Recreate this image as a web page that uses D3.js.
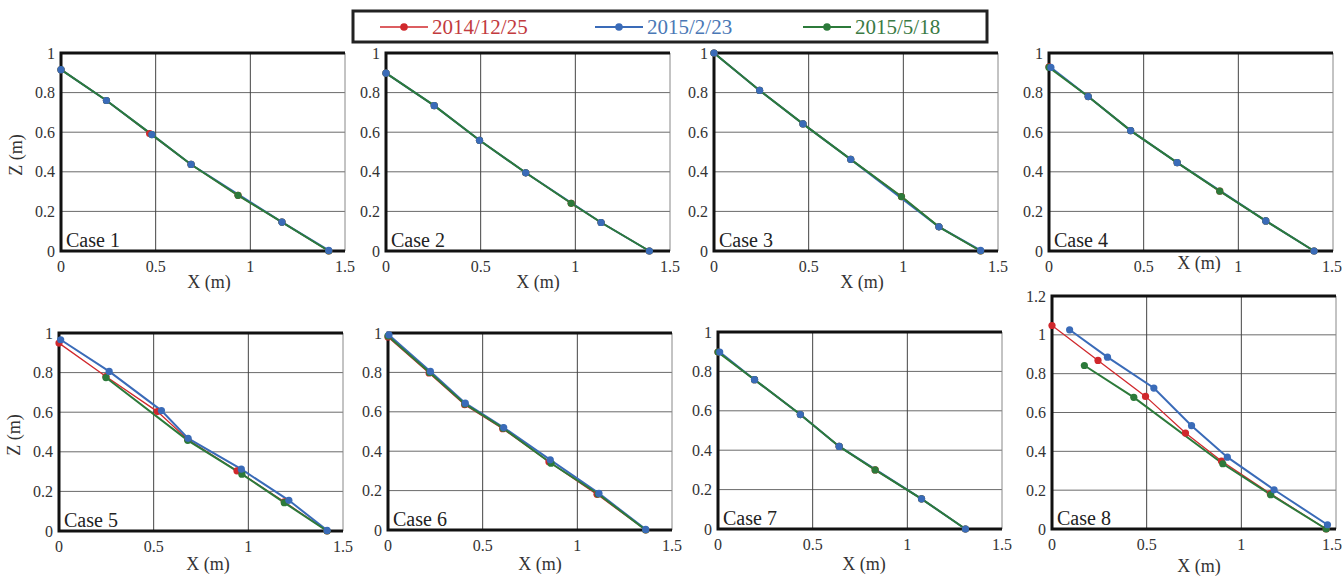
<!DOCTYPE html>
<html>
<head>
<meta charset="utf-8">
<script src="https://cdn.jsdelivr.net/npm/d3@7"></script>
<style>
  body { margin: 0; background: #fff; }
  svg { display: block; }
</style>
</head>
<body>
<div id="chart"></div>
<script>
// series names + colours
const seriesNames = ["2014/12/25", "2015/2/23", "2015/5/18"];
const seriesColors = ["#d0282c", "#3a6bb8", "#2c7a3a"];
const textColors = ["#c23a3e", "#4a78b6", "#3a7a44"];

const xTicks = [0, 0.5, 1, 1.5];
const zTicks = [0, 0.2, 0.4, 0.6, 0.8, 1];
const zTicks8 = [0, 0.2, 0.4, 0.6, 0.8, 1, 1.2];
const caseNames = ["Case 1", "Case 2", "Case 3", "Case 4", "Case 5", "Case 6", "Case 7", "Case 8"];

// [X, Z]
const case1Red = [[0,0.916],[0.24,0.76],[0.468,0.593],[0.687,0.437],[0.935,0.281],[1.167,0.146],[1.414,0]];
const case1Blue = [[0,0.916],[0.24,0.76],[0.48,0.588],[0.687,0.437],[1.167,0.146],[1.414,0.003]];
const case1Green = [[0,0.916],[0.24,0.76],[0.48,0.588],[0.687,0.437],[0.935,0.281],[1.167,0.146],[1.414,0]];

const case2Red = [[0,0.898],[0.255,0.734],[0.494,0.559],[0.738,0.395],[0.978,0.241],[1.136,0.144],[1.391,0]];
const case2Blue = [[0,0.898],[0.255,0.734],[0.494,0.559],[0.738,0.395],[1.136,0.144],[1.391,0]];
const case2Green = [[0,0.898],[0.255,0.734],[0.494,0.559],[0.738,0.395],[0.978,0.241],[1.136,0.144],[1.391,0]];

const case3Red = [[0,1.0],[0.241,0.811],[0.47,0.642],[0.722,0.463],[0.99,0.275],[1.188,0.122],[1.408,0]];
const case3Blue = [[0,1.0],[0.241,0.811],[0.47,0.642],[0.722,0.463],[1.188,0.122],[1.408,0.003]];
const case3Green = [[0,1.0],[0.241,0.811],[0.47,0.642],[0.722,0.463],[0.99,0.275],[1.188,0.122],[1.408,0]];

const case4Red = [[0,0.93],[0.207,0.78],[0.431,0.608],[0.677,0.446],[0.902,0.302],[1.145,0.152],[1.4,0]];
const case4Blue = [[0.01,0.927],[0.207,0.78],[0.431,0.608],[0.677,0.446],[1.145,0.152],[1.4,0]];
const case4Green = [[0,0.927],[0.207,0.78],[0.431,0.608],[0.677,0.446],[0.902,0.302],[1.145,0.152],[1.4,0]];

const case5Red = [[0,0.949],[0.248,0.78],[0.52,0.603],[0.68,0.462],[0.94,0.304],[1.19,0.147],[1.416,0]];
const case5Blue = [[0.009,0.966],[0.265,0.806],[0.541,0.608],[0.682,0.468],[0.963,0.312],[1.214,0.155],[1.416,0.003]];
const case5Green = [[0.248,0.775],[0.68,0.458],[0.966,0.287],[1.19,0.143],[1.416,0]];

const case6Red = [[0,0.98],[0.217,0.797],[0.405,0.636],[0.606,0.514],[0.85,0.346],[1.104,0.181],[1.361,0]];
const case6Blue = [[0.005,0.99],[0.224,0.805],[0.408,0.644],[0.611,0.52],[0.857,0.356],[1.114,0.186],[1.361,0.003]];
const case6Green = [[0,0.985],[0.22,0.8],[0.406,0.64],[0.608,0.517],[0.861,0.339],[1.11,0.183],[1.361,0]];

const case7Red = [[0,0.898],[0.193,0.758],[0.435,0.581],[0.64,0.419],[0.83,0.3],[1.075,0.153],[1.307,0]];
const case7Blue = [[0.009,0.898],[0.193,0.758],[0.435,0.581],[0.64,0.419],[1.075,0.153],[1.307,0]];
const case7Green = [[0,0.898],[0.193,0.758],[0.435,0.581],[0.64,0.419],[0.83,0.3],[1.075,0.153],[1.307,0]];

const case8Red = [[0,1.048],[0.243,0.868],[0.494,0.683],[0.705,0.494],[0.895,0.35],[1.153,0.182],[1.448,0]];
const case8Blue = [[0.093,1.026],[0.293,0.885],[0.538,0.726],[0.737,0.532],[0.926,0.37],[1.173,0.202],[1.455,0.022]];
const case8Green = [[0.171,0.842],[0.432,0.678],[0.902,0.336],[1.155,0.177],[1.448,0]];

const caseData = [
  [case1Red, case1Blue, case1Green],
  [case2Red, case2Blue, case2Green],
  [case3Red, case3Blue, case3Green],
  [case4Red, case4Blue, case4Green],
  [case5Red, case5Blue, case5Green],
  [case6Red, case6Blue, case6Green],
  [case7Red, case7Blue, case7Green],
  [case8Red, case8Blue, case8Green]
];

// panel layout (pixels)
const panels = [
  { left: 61,   top: 53,  bottom: 251, zmax: 1,   zlab: true,  xlab: [209, 288] },
  { left: 386,  top: 53,  bottom: 251, zmax: 1,   zlab: false, xlab: [538, 288] },
  { left: 714,  top: 53,  bottom: 251, zmax: 1,   zlab: false, xlab: [862, 288] },
  { left: 1049, top: 53,  bottom: 251, zmax: 1,   zlab: false, xlab: [1199, 269] },
  { left: 59,   top: 333, bottom: 531, zmax: 1,   zlab: true,  xlab: [208, 570] },
  { left: 388,  top: 333, bottom: 530, zmax: 1,   zlab: false, xlab: [540, 570] },
  { left: 718,  top: 332, bottom: 529, zmax: 1,   zlab: false, xlab: [864, 570] },
  { left: 1052, top: 296, bottom: 529, zmax: 1.2, zlab: false, xlab: [1199, 572] }
];
const panelW = 284;
const serif = "'Liberation Serif', 'Times New Roman', 'DejaVu Serif', serif";

const W = 1344, H = 577;
const svg = d3.select("#chart").append("svg").attr("width", W).attr("height", H)
  .attr("font-family", serif);

// draw order of lines and markers
const lineOrder = [0, 1, 2];
const dotOrder = [0, 2, 1];
const lineWidths = [1.3, 2, 2];

panels.forEach((p, i) => {
  const x = d3.scaleLinear().domain([0, 1.5]).range([p.left, p.left + panelW]);
  const z = d3.scaleLinear().domain([0, p.zmax]).range([p.bottom, p.top]);
  const zt = p.zmax > 1 ? zTicks8 : zTicks;
  const g = svg.append("g");

  // grid
  g.selectAll(".hg").data(zt.filter(d => d > 0 && d < p.zmax)).join("line")
    .attr("x1", x(0)).attr("x2", x(1.5))
    .attr("y1", d => z(d)).attr("y2", d => z(d))
    .attr("stroke", "#6a6a6a").attr("stroke-width", 1);
  g.selectAll(".vg").data([0.5, 1, 1.5]).join("line")
    .attr("y1", z(0)).attr("y2", z(p.zmax))
    .attr("x1", d => x(d)).attr("x2", d => x(d))
    .attr("stroke", d => d === 1.5 ? "#888" : "#444").attr("stroke-width", 1);

  // heavy frame: top, left, bottom
  g.append("path")
    .attr("d", `M${x(1.5)},${z(p.zmax)}H${x(0)}V${z(0)}H${x(1.5)}`)
    .attr("fill", "none").attr("stroke", "#111").attr("stroke-width", 3);

  // tick labels
  g.selectAll(".zl").data(zt).join("text")
    .attr("x", x(0) - 6).attr("y", d => z(d)).attr("dy", "0.35em")
    .attr("text-anchor", "end").attr("font-size", 16).attr("fill", "#333")
    .text(d => d);
  const xl = g.selectAll(".xl").data(xTicks).join("text")
    .attr("x", d => x(d)).attr("y", z(0) + 21)
    .attr("text-anchor", "middle").attr("font-size", 16).attr("fill", "#333")
    .text(d => d);
  xl.each(function () {
    const bb = this.getBBox();
    if (bb.x + bb.width > W - 2) d3.select(this).attr("dx", (W - 2) - (bb.x + bb.width));
  });

  // axis titles
  g.append("text").attr("x", p.xlab[0]).attr("y", p.xlab[1])
    .attr("text-anchor", "middle").attr("font-size", 18).attr("fill", "#333")
    .text("X (m)");
  if (p.zlab) {
    g.append("text")
      .attr("transform", `translate(${p.left - 39},${(p.top + p.bottom) / 2 + 3}) rotate(-90)`)
      .attr("text-anchor", "middle").attr("font-size", 18).attr("fill", "#333")
      .text("Z (m)");
  }

  // case label
  g.append("text").attr("x", x(0) + 5).attr("y", z(0) - 4)
    .attr("font-size", 20).attr("fill", "#222").text(caseNames[i]);

  // lines then markers
  const line = d3.line().x(d => x(d[0])).y(d => z(d[1]));
  lineOrder.forEach(s => {
    g.append("path").datum(caseData[i][s]).attr("d", line)
      .attr("fill", "none").attr("stroke", seriesColors[s])
      .attr("stroke-width", lineWidths[s]);
  });
  dotOrder.forEach(s => {
    g.selectAll(null).data(caseData[i][s]).join("circle")
      .attr("cx", d => x(d[0])).attr("cy", d => z(d[1])).attr("r", 3.6)
      .attr("fill", seriesColors[s]);
  });
});

// legend
const leg = svg.append("g");
leg.append("rect").attr("x", 353).attr("y", 11).attr("width", 634).attr("height", 31)
  .attr("fill", "#fff").attr("stroke", "#222").attr("stroke-width", 3);
const legX = [380, 595, 803];
seriesNames.forEach((name, s) => {
  const lx = legX[s];
  leg.append("line").attr("x1", lx).attr("x2", lx + 48).attr("y1", 27).attr("y2", 27)
    .attr("stroke", seriesColors[s]).attr("stroke-width", lineWidths[s]);
  leg.append("circle").attr("cx", lx + 24).attr("cy", 27).attr("r", 3.8).attr("fill", seriesColors[s]);
  leg.append("text").attr("x", lx + 52).attr("y", 34).attr("font-size", 21)
    .attr("fill", textColors[s]).text(name);
});
</script>
</body>
</html>
